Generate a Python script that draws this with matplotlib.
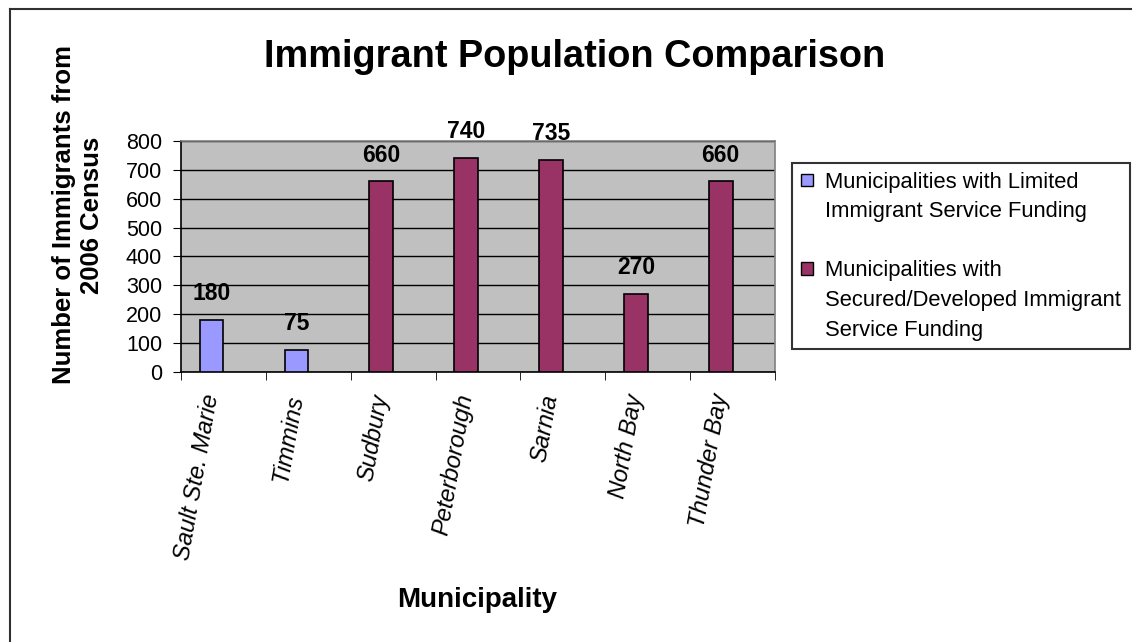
import matplotlib
matplotlib.use("Agg")
import matplotlib.pyplot as plt
from matplotlib.patches import Patch
from matplotlib.lines import Line2D
import numpy as np

municipalities = ['Sault Ste. Marie', 'Timmins', 'Sudbury', 'Peterborough',
                  'Sarnia', 'North Bay', 'Thunder Bay']
immigrants = [180, 75, 660, 740, 735, 270, 660]
limited_funding = [True, True, False, False, False, False, False]

series_names = ['Municipalities with Limited\nImmigrant Service Funding',
                'Municipalities with\nSecured/Developed Immigrant\nService Funding']
series_colors = ['#9999FF', '#993366']

plt.rcParams['font.family'] = ['Liberation Sans', 'DejaVu Sans']

W, H = 1132, 642
fig = plt.figure(figsize=(W / 100, H / 100), dpi=100)

# plot area in pixels: left 181, right 775, top 141, bottom 372
ax = fig.add_axes([181 / W, 1 - 372 / H, (775 - 181) / W, (372 - 141) / H])
ax.set_facecolor('#C0C0C0')

x = np.arange(len(municipalities))
colors = [series_colors[0] if lim else series_colors[1] for lim in limited_funding]
bar_w = 0.28
ax.bar(x - bar_w / 2, immigrants, width=bar_w, color=colors,
       edgecolor='black', linewidth=1.2, zorder=3)

for xi, v in zip(x, immigrants):
    ax.annotate(str(v), (xi - bar_w / 2, v), xytext=(0, 19),
                textcoords='offset points', ha='center', va='center',
                fontsize=16.5, fontweight='bold', zorder=4, annotation_clip=False)

ax.set_ylim(0, 800)
ax.set_yticks(range(0, 801, 100))
ax.yaxis.grid(True, color='black', linewidth=1, zorder=1)
ax.set_axisbelow(True)
ax.tick_params(axis='y', direction='out', length=6, labelsize=15.5, pad=7.5)

ax.set_xlim(-0.5, len(municipalities) - 0.5)
ax.set_xticks(x - bar_w / 2)
ax.set_xticklabels(municipalities, rotation=80, fontsize=17, fontstyle='italic',
                   rotation_mode='anchor', ha='right', va='center')
ax.set_xticks(np.arange(len(municipalities) + 1) - 0.5, minor=True)
ax.tick_params(axis='x', which='major', length=0, pad=16)
ax.tick_params(axis='x', which='minor', direction='out', length=6)

for s in ['left', 'bottom']:
    ax.spines[s].set_color('black')
    ax.spines[s].set_linewidth(1.2)
for s in ['top', 'right']:
    ax.spines[s].set_color('#808080')
    ax.spines[s].set_linewidth(1.2)

fig.text(575 / W, 1 - 57 / H, 'Immigrant Population Comparison',
         ha='center', va='center', fontsize=27.3, fontweight='bold')
fig.text(78 / W, 1 - 215 / H, 'Number of Immigrants from\n2006 Census',
         ha='center', va='center', rotation=90, fontsize=18.5,
         fontweight='bold', linespacing=1.2)
fig.text(477 / W, 1 - 600 / H, 'Municipality', ha='center', va='center',
         fontsize=20, fontweight='bold')

# legend: one row per text line so the swatch sits beside the first line
leg_handles, leg_labels = [], []
for i, (name, c) in enumerate(zip(series_names, series_colors)):
    if i > 0:
        leg_handles.append(Patch(facecolor='none', edgecolor='none'))
        leg_labels.append(' ')
    for j, line in enumerate(name.split('\n')):
        if j == 0:
            leg_handles.append(Patch(facecolor=c, edgecolor='black', linewidth=1))
        else:
            leg_handles.append(Patch(facecolor='none', edgecolor='none'))
        leg_labels.append(line)

leg = fig.legend(leg_handles, leg_labels, loc='upper left',
                 bbox_to_anchor=(792 / W, 1 - 163 / H), fontsize=15.8,
                 frameon=True, fancybox=False, handlelength=0.57,
                 handleheight=0.5, handletextpad=0.54, labelspacing=0.39,
                 borderpad=0.4, borderaxespad=0)
leg.get_frame().set_edgecolor('black')
leg.get_frame().set_linewidth(1.5)

# outer chart border on left and top
fig.add_artist(Line2D([10 / W, 10 / W], [0, 1 - 9 / H], color='#303030',
                      linewidth=1.5, transform=fig.transFigure))
fig.add_artist(Line2D([10 / W, 1], [1 - 9 / H, 1 - 9 / H], color='#303030',
                      linewidth=1.5, transform=fig.transFigure))

fig.savefig('out.png', dpi=100)
